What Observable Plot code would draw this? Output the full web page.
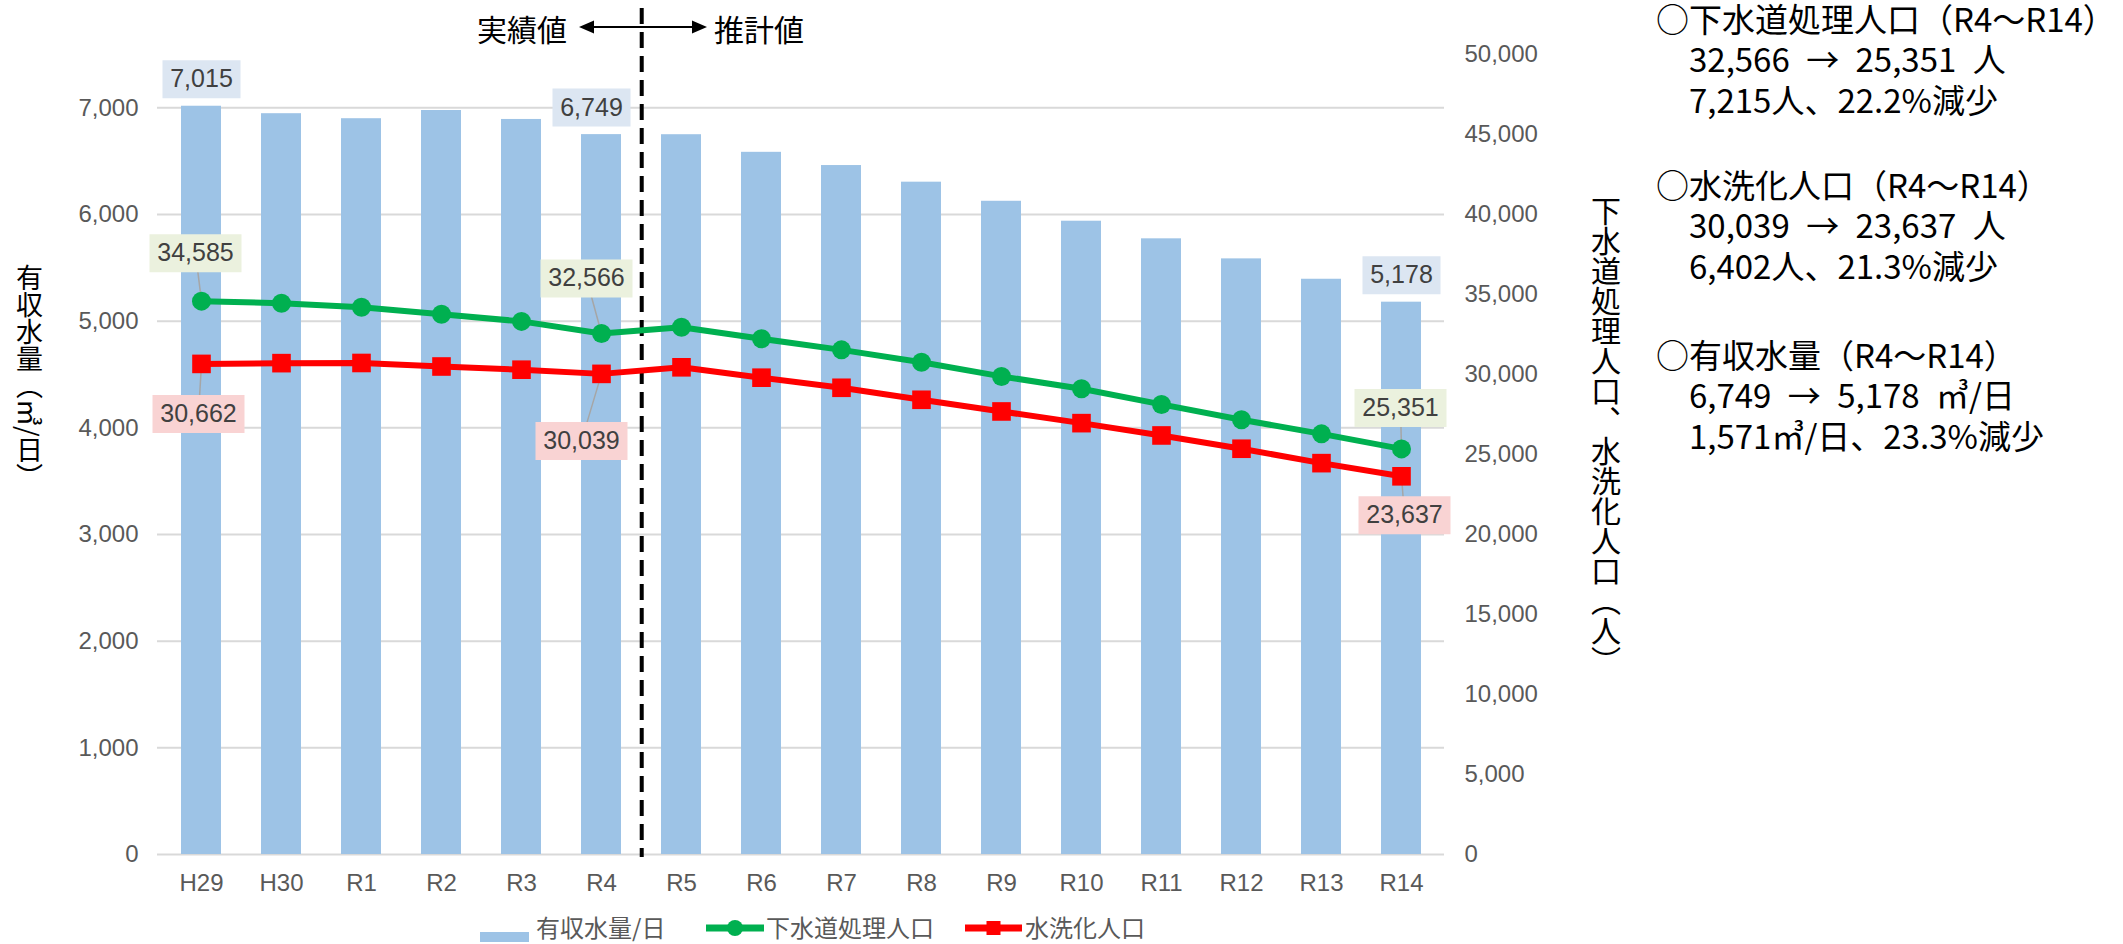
<!DOCTYPE html>
<html><head><meta charset="utf-8">
<script src="https://cdn.jsdelivr.net/npm/d3@7"></script>
<script src="https://cdn.jsdelivr.net/npm/@observablehq/plot@0.6"></script>
<style>
body{margin:0;background:#fff;}
#wrap{position:relative;width:2123px;height:944px;overflow:hidden;font-family:"Noto Sans CJK JP",sans-serif;background:#fff;}
.abs{position:absolute;white-space:pre;}
.vt{writing-mode:vertical-rl;text-orientation:mixed;}
.side{text-orientation:sideways;}
.note{font-size:33px;line-height:40.5px;color:#000;}
.num{word-spacing:9px;}
</style></head><body>
<div id="wrap"><div id="chart"></div></div>
<script>
// ---- data ----
const categories = ["H29","H30","R1","R2","R3","R4","R5","R6","R7","R8","R9","R10","R11","R12","R13","R14"];
const waterVolume = [7015,6945,6898,6975,6891,6749,6748,6583,6459,6303,6124,5937,5772,5584,5393,5178];
const sewerPop = [34585,34450,34200,33760,33320,32566,32950,32230,31540,30770,29880,29110,28130,27170,26290,25351];
const flushPop = [30662,30710,30720,30500,30300,30039,30450,29800,29170,28420,27690,26960,26190,25360,24460,23637];
const leftTicks = [0,1000,2000,3000,4000,5000,6000,7000];
const rightTicks = [0,5000,10000,15000,20000,25000,30000,35000,40000,45000,50000];
const labeledCategories = ["H29","R4","R14"];
const seriesNames = ["有収水量/日","下水道処理人口","水洗化人口"];
const leftTitle = "有収水量（㎥/日）";
const rightTitle = "下水道処理人口、水洗化人口（人）";
const periodLabels = ["実績値","推計値"];
const notes = [
  ["○下水道処理人口（R4～R14）","　32,566 → 25,351 人","　7,215人、22.2%減少"],
  ["○水洗化人口（R4～R14）","　30,039 → 23,637 人","　6,402人、21.3%減少"],
  ["○有収水量（R4～R14）","　6,749 → 5,178 ㎥/日","　1,571㎥/日、23.3%減少"]
];

// ---- layout / style ----
const W = 2123, H = 944, mL = 157, mR = 679, mT = 54, mB = 90;
const leftMax = 7500, rightMax = 50000, k = leftMax / rightMax;
const padIn = 0.5, padOut = 0.25;
const step = (W - mL - mR) / (categories.length - padIn + 2 * padOut);
const blue = "#9dc3e6", green = "#00b050", red = "#ff0000";
const fmt = d3.format(",");
const numFont = "Liberation Sans, Arial, sans-serif";

const rows = categories.map((c, i) => ({category: c, water: waterVolume[i], sewer: sewerPop[i], flush: flushPop[i]}));

const box = (w, h) => ({draw(ctx) { ctx.rect(-w / 2, -h / 2, w, h); }});
const leaderShape = {draw(ctx, l) { ctx.moveTo(0, 0); ctx.lineTo(0, -l); }};

const seriesDefs = [
  {key: "water", get: d => d.water, fill: "#dce6f2", w: 78, leader: false, offsets: [[0,-27],[-10,-27],[0,-27]]},
  {key: "sewer", get: d => d.sewer * k, fill: "#ebf1de", w: 92, leader: true, offsets: [[-6,-48],[-15,-55],[-1,-41]]},
  {key: "flush", get: d => d.flush * k, fill: "#f9d3d3", w: 92, leader: true, offsets: [[-3,50],[-20,67],[3,39]]}
];
const leaderMarks = [], labelMarks = [];
for (const s of seriesDefs) {
  labeledCategories.forEach((c, j) => {
    const d = rows.filter(r => r.category === c);
    const [dx, dy] = s.offsets[j];
    if (s.leader) {
      leaderMarks.push(Plot.vector(d, {x: "category", y: s.get, length: Math.hypot(dx, dy),
        rotate: Math.atan2(dx, -dy) * 180 / Math.PI, anchor: "start", shape: leaderShape,
        stroke: "#a6a6a6", strokeWidth: 1.5}));
    }
    labelMarks.push(Plot.dot(d, {x: "category", y: s.get, symbol: box(s.w, 38), fill: s.fill, dx, dy}));
    labelMarks.push(Plot.text(d, {x: "category", y: s.get, text: r => fmt(r[s.key]), dx, dy,
      fill: "#404040", fontSize: 25, fontFamily: numFont}));
  });
}

const chart = Plot.plot({
  width: W, height: H, marginLeft: mL, marginRight: mR, marginTop: mT, marginBottom: mB,
  x: {type: "band", domain: categories, paddingInner: padIn, paddingOuter: padOut, axis: null},
  y: {domain: [0, leftMax], axis: null},
  style: {fontFamily: numFont, fontSize: "24px", color: "#595959", background: "white"},
  marks: [
    Plot.ruleY(leftTicks, {stroke: "#d9d9d9", strokeWidth: 2}),
    Plot.barY(rows, {x: "category", y: "water", fill: blue}),
    Plot.ruleX(["R4"], {dx: step / 2, stroke: "#000", strokeWidth: 4, strokeDasharray: "16,8", insetTop: -46, insetBottom: -3}),
    Plot.line(rows, {x: "category", y: d => d.sewer * k, stroke: green, strokeWidth: 6}),
    Plot.line(rows, {x: "category", y: d => d.flush * k, stroke: red, strokeWidth: 6}),
    ...leaderMarks,
    Plot.dot(rows, {x: "category", y: d => d.sewer * k, r: 9.5, fill: green}),
    Plot.dot(rows, {x: "category", y: d => d.flush * k, r: 10.5, symbol: "square", fill: red}),
    ...labelMarks,
    Plot.axisY(leftTicks, {anchor: "left", tickSize: 0, tickPadding: 19, tickFormat: fmt, label: null, fontSize: 24}),
    Plot.axisY(rightTicks.map(v => v * k), {anchor: "right", tickSize: 0, tickPadding: 20,
      tickFormat: v => fmt(Math.round(v / k)), label: null, fontSize: 24}),
    Plot.axisX({tickSize: 0, tickPadding: 19, label: null, fontSize: 24})
  ]
});
document.getElementById("chart").appendChild(chart);

// ---- overlays (titles, legend, notes) ----
const wrap = document.getElementById("wrap");
function addDiv(text, css, cls = "abs") {
  const el = document.createElement("div");
  el.className = cls; el.textContent = text; el.style.cssText = css; wrap.appendChild(el); return el;
}
function addSvg(css, inner, w, h) {
  const el = document.createElement("div");
  el.className = "abs"; el.style.cssText = css;
  el.innerHTML = `<svg width="${w}" height="${h}" xmlns="http://www.w3.org/2000/svg">${inner}</svg>`;
  wrap.appendChild(el);
}
// period labels and arrow
addDiv(periodLabels[0], "left:477px;top:13px;font-size:30px;line-height:30px;color:#000;");
addDiv(periodLabels[1], "left:714px;top:13px;font-size:30px;line-height:30px;color:#000;");
addSvg("left:575px;top:17px;",
  `<line x1="18" y1="10" x2="118" y2="10" stroke="#000" stroke-width="2"/>
   <polygon points="4,10 19,3.5 19,16.5" fill="#000"/>
   <polygon points="132,10 117,3.5 117,16.5" fill="#000"/>`, 136, 20);
// axis titles (left title: the "㎥/" run is set sideways as in the reference)
{
  const el = addDiv("", "left:15px;top:264px;font-size:27px;line-height:28px;color:#000;", "abs vt");
  leftTitle.split(/(㎥\/)/).forEach(part => {
    const sp = document.createElement("span");
    sp.textContent = part;
    if (part === "㎥/") sp.className = "side";
    el.appendChild(sp);
  });
}
addDiv(rightTitle, "left:1591px;top:196px;font-size:30px;line-height:30px;color:#000;", "abs vt");
// legend
addSvg("left:480px;top:923px;", `<rect x="0" y="0" width="49" height="10" fill="${blue}"/>`, 49, 10);
addDiv(seriesNames[0], "left:536px;top:915px;font-size:24px;line-height:24px;color:#595959;");
addSvg("left:706px;top:918px;", `<line x1="0" y1="10" x2="58" y2="10" stroke="${green}" stroke-width="7"/><circle cx="29" cy="10" r="8" fill="${green}"/>`, 58, 20);
addDiv(seriesNames[1], "left:766px;top:915px;font-size:24px;line-height:24px;color:#595959;");
addSvg("left:965px;top:918px;", `<line x1="0" y1="10" x2="57" y2="10" stroke="${red}" stroke-width="7"/><rect x="21.5" y="3" width="14" height="14" fill="${red}"/>`, 57, 20);
addDiv(seriesNames[2], "left:1025px;top:915px;font-size:24px;line-height:24px;color:#595959;");
// notes
const groupTops = [-2.5, 163.5, 333.5];
notes.forEach((lines, g) => {
  const el = document.createElement("div");
  el.className = "abs note";
  el.style.cssText = `left:1656px;top:${groupTops[g]}px;`;
  lines.forEach((t, i) => {
    const l = document.createElement("div");
    l.textContent = t;
    if (i > 0) l.className = "num";
    el.appendChild(l);
  });
  wrap.appendChild(el);
});
</script>
</body></html>
